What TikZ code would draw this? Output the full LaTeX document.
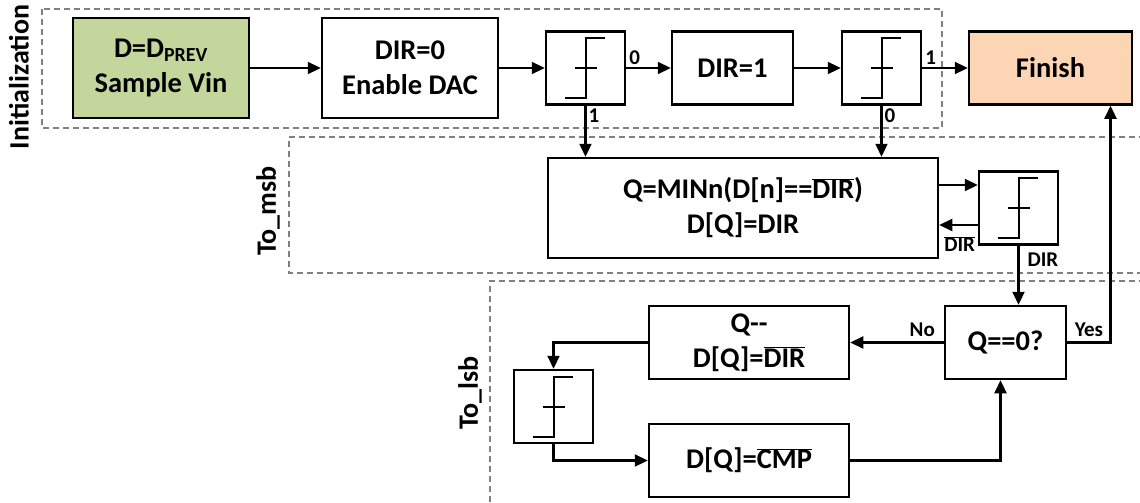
\documentclass[tikz,border=0pt]{standalone}
\usepackage{fontspec}
\setmainfont{Carlito}
\usetikzlibrary{positioning,arrows.meta}
\definecolor{prevgreen}{HTML}{C3D69B}
\definecolor{finishpeach}{HTML}{FCD5B4}
\newcommand{\olbar}[1]{$\overline{\mbox{#1}}$}

\begin{document}
\begin{tikzpicture}[
    x=1pt, y=1pt,
    font=\bfseries\fontsize{28.5}{35}\selectfont,
    box/.style={draw, line width=2.5pt, align=center, inner sep=2pt, minimum width=176pt, minimum height=100pt},
    cmp/.style={draw, line width=2.5pt, minimum width=79pt, minimum height=73pt, path picture={
        \draw[line width=2pt] ([shift={(-21pt,-30pt)}]path picture bounding box.center) -- ++(21pt,0) -- ++(0,60pt) -- ++(19pt,0);
        \draw[line width=2pt] ([shift={(-11pt,0pt)}]path picture bounding box.center) -- ++(22pt,0);}},
    arr/.style={-{Triangle[length=13pt,width=12pt]}, line width=2.2pt},
    lbl/.style={font=\bfseries\fontsize{21}{24}\selectfont, inner sep=2pt},
    region/.style={gray, line width=1.2pt, dash pattern=on 6pt off 4pt},
    side/.style={rotate=90, font=\bfseries\fontsize{28}{30}\selectfont},
]
\useasboundingbox (0,0) rectangle (1140,-503);

% dashed regions
\draw[region] (42,-9) rectangle (942,-128);
\draw[region] (1145,-137) -- (289,-137) -- (289,-273) -- (1145,-273);
\draw[region] (1145,-281) -- (490,-281) -- (490,-508);
\node[side] (init) at (19,-77) {Initialization};
\node[side] (tomsb) at (268,-211) {To\_msb};
\node[side] (tolsb) at (470,-393) {To\_lsb};

% initialization row
\node[box, fill=prevgreen] (prev) at (161,-68) {D=D\textsubscript{PREV}\\Sample Vin};
\node[box, right=70.5pt of prev] (dirzero) {DIR=0\\Enable DAC};
\node[cmp, right=45.5pt of dirzero] (cmpa) {};
\node[box, minimum width=121pt, minimum height=73pt, right=44.5pt of cmpa] (dirone) {DIR=1};
\node[cmp, right=46.5pt of dirone] (cmpb) {};
\node[box, fill=finishpeach, minimum width=163pt, minimum height=73pt, right=45.5pt of cmpb] (finish) {Finish};

% to msb
\node[box, minimum width=390pt] (minn) at (743,-208) {Q=MINn(D[n]==\olbar{DIR})\\D[Q]=DIR};
\node[cmp, right=38.5pt of minn] (cmpc) {};

% to lsb
\node[box, minimum width=121pt, minimum height=73pt] (qzero) at (1005.5,-342.5) {Q==0?};
\node[box, minimum width=200pt, minimum height=73pt, left=93.5pt of qzero] (qdec) {Q-{}-\\D[Q]=\olbar{DIR}};
\node[box, minimum width=200pt, minimum height=73pt, below=42.5pt of qdec] (cmpl) {D[Q]=\olbar{CMP}};
\node[cmp] (cmpd) at (553.5,-406.5) {};

\draw[arr] (prev) -- (dirzero);
\draw[arr] (dirzero) -- (cmpa);
\draw[arr] (cmpa) -- node[lbl, pos=0, anchor=south west] {0} (dirone);
\draw[arr] (dirone) -- (cmpb);
\draw[arr] (cmpb) -- node[lbl, pos=0, anchor=south west] {1} (finish);
\draw[arr] (cmpa.south) -- node[lbl, pos=0, anchor=north west] {1} (cmpa.south |- minn.north);
\draw[arr] (cmpb.south) -- node[lbl, pos=0, anchor=north west] {0} (cmpb.south |- minn.north);
\draw[arr] ([yshift=23pt]minn.east) -- ([yshift=23pt]minn.east -| cmpc.west);
\draw[arr] ([yshift=-17pt]cmpc.west) -- node[lbl, pos=1, anchor=north west, xshift=2pt, yshift=-8pt] {\olbar{DIR}} ([yshift=-17pt]cmpc.west -| minn.east);
\draw[arr] (cmpc.south) -- node[lbl, pos=0.23, anchor=west, xshift=6pt] {DIR} (cmpc.south |- qzero.north);
\draw[arr] (qzero.east) -| node[lbl, pos=0.25, anchor=south, yshift=3pt] {Yes} ([xshift=60pt]finish.south);
\draw[arr] (qzero) -- node[lbl, pos=0.23, anchor=south, yshift=3pt] {No} (qdec);
\draw[arr] (qdec.west) -| (cmpd.north);
\draw[arr] (cmpd.south) |- (cmpl.west);
\draw[arr] (cmpl.east) -| ([xshift=-5pt]qzero.south);
\end{tikzpicture}
\end{document}
